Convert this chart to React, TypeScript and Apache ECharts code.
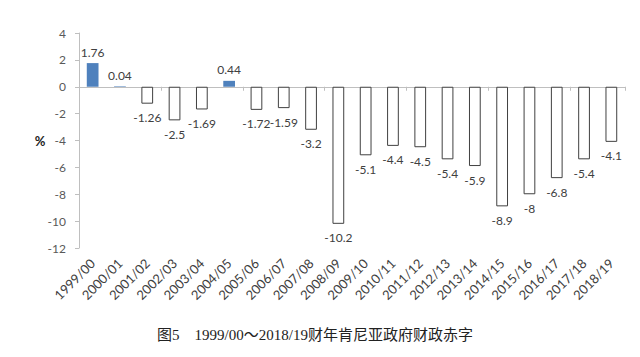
import React, { useEffect, useRef } from "react";
import * as echarts from "echarts";

const categories = [
  "1999/00", "2000/01", "2001/02", "2002/03", "2003/04", "2004/05", "2005/06",
  "2006/07", "2007/08", "2008/09", "2009/10", "2010/11", "2011/12", "2012/13",
  "2013/14", "2014/15", "2015/16", "2016/17", "2017/18", "2018/19",
];
const deficitValues = [
  1.76, 0.04, -1.26, -2.5, -1.69, 0.44, -1.72, -1.59, -3.2, -10.2,
  -5.1, -4.4, -4.5, -5.4, -5.9, -8.9, -8, -6.8, -5.4, -4.1,
];
const yTicks = { min: -12, max: 4, interval: 2 };
const unitLabel = "%";
const caption = "图5　1999/00～2018/19财年肯尼亚政府财政赤字";

const FONT = "Lato, 'Open Sans', 'Liberation Sans', sans-serif";

export default function App() {
  const ref = useRef<HTMLDivElement>(null);
  useEffect(() => {
    if (!ref.current) return;
    const chart = echarts.init(ref.current, undefined, { renderer: "svg" });
    const data = deficitValues.map((v) => ({
      value: v,
      itemStyle:
        v >= 0
          ? { color: "#4f81bd", borderColor: "#4f81bd", borderWidth: 0 }
          : { color: "#ffffff", borderColor: "#404040", borderWidth: 1 },
      label: { position: v >= 0 ? "top" : "bottom", distance: v >= 0 ? 5 : 8 },
    }));
    chart.setOption({
      animation: false,
      backgroundColor: "#ffffff",
      grid: { left: 79, right: 15, top: 33, bottom: 109 },
      xAxis: [
        {
          type: "category",
          data: categories,
          position: "bottom",
          axisLine: { show: false, onZero: false },
          axisTick: { show: false },
          axisLabel: {
            interval: 0,
            rotate: 45,
            margin: 13,
            fontSize: 13,
            color: "#404040",
            fontFamily: FONT,
          },
        },
        {
          type: "category",
          data: categories,
          position: "bottom",
          axisLine: { show: true, onZero: true, lineStyle: { color: "#bfbfbf", width: 1 } },
          axisTick: { show: true, length: 4, lineStyle: { color: "#bfbfbf" } },
          axisLabel: { show: false },
        },
      ],
      yAxis: {
        type: "value",
        min: yTicks.min,
        max: yTicks.max,
        interval: yTicks.interval,
        axisLine: { show: true, lineStyle: { color: "#bfbfbf" } },
        axisTick: { show: true, length: 4, lineStyle: { color: "#bfbfbf" } },
        splitLine: { show: false },
        axisLabel: { margin: 13, fontSize: 12, color: "#595959", fontFamily: FONT },
      },
      series: [
        {
          type: "bar",
          xAxisIndex: 0,
          data,
          barWidth: "43%",
          label: {
            show: true,
            fontSize: 12,
            color: "#404040",
            fontFamily: FONT,
          },
        },
      ],
      graphic: [
        {
          type: "text",
          x: 40,
          y: 141,
          style: {
            text: unitLabel,
            fontSize: 13,
            fontWeight: "bold",
            fill: "#222",
            fontFamily: FONT,
            textAlign: "center",
            textVerticalAlign: "middle",
          },
        },
        {
          type: "text",
          x: 315,
          y: 335,
          style: {
            text: caption,
            fontSize: 15,
            fill: "#222",
            fontFamily: "'Liberation Serif', 'Noto Sans CJK SC', serif",
            textAlign: "center",
            textVerticalAlign: "middle",
          },
        },
      ],
    });
    return () => chart.dispose();
  }, []);
  return (
    <div
      ref={ref}
      style={{ position: "fixed", left: 0, top: 0, width: 640, height: 357 }}
    />
  );
}
